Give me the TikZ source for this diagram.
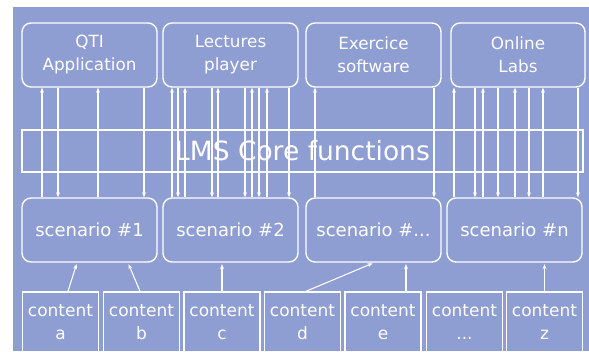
\documentclass[tikz,border=0pt]{standalone}
\usepackage{fontspec}
\setmainfont{DejaVu Sans}
\usetikzlibrary{arrows.meta}
\definecolor{bgblue}{RGB}{142,157,210}
\tikzset{
  box/.style={draw=white, line width=1.4pt, rounded corners=9pt, text=white, align=center, font=\fontsize{16.8}{23}\selectfont, minimum height=64pt},
  scen/.style={box, font=\fontsize{18}{23}\selectfont},
  cbox/.style={draw=white, line width=1.4pt, text=white, align=center, font=\fontsize{17}{23}\selectfont, minimum width=76pt, minimum height=60pt, inner sep=0pt},
  core/.style={draw=white, line width=1.2pt, text=white, font=\fontsize{26.5}{30}\selectfont, minimum width=561pt, minimum height=42pt},
  link/.style={draw=white, line width=1.1pt, -{Stealth[length=5pt,width=4pt]}}
}
\begin{document}
\begin{tikzpicture}[x=1pt,y=-1pt]
\useasboundingbox (0,0) rectangle (589,351);
\fill[white] (0,0) rectangle (589,351);
\fill[bgblue] (13,7) rectangle (589,351);
% top row
\node[box, minimum width=135pt] (qti) at (89.5,55) {QTI\\Application};
\node[box, minimum width=135pt] (lec) at (230.5,55) {Lectures\\player};
\node[box, minimum width=135pt] (exe) at (373.5,55) {Exercice\\software};
\node[box, minimum width=134pt] (lab) at (518,55) {Online\\Labs};
% core
\node[core] (lms) at (302.5,151) {LMS Core functions};
% scenarios
\node[scen, minimum width=135pt] (s1) at (89.5,230) {scenario \#1};
\node[scen, minimum width=135pt] (s2) at (230.5,230) {scenario \#2};
\node[scen, minimum width=135pt] (s3) at (373.5,230) {scenario \#...};
\node[scen, minimum width=135pt] (s4) at (514.5,230) {scenario \#n};
% contents
\node[cbox] (ca) at (60.5,322) {content\\a};
\node[cbox] (cb) at (141.5,322) {content\\b};
\node[cbox] (cc) at (222,322) {content\\c};
\node[cbox] (cd) at (302.5,322) {content\\d};
\node[cbox] (ce) at (383,322) {content\\e};
\node[cbox] (cdots) at (464.5,322) {content\\...};
\node[cbox] (cz) at (544.5,322) {content\\z};
% vertical links: up arrows (scenario -> app), down arrows (app -> scenario)
\foreach \x in {42,98} \draw[link] (s1.north -| \x,0) -- (qti.south -| \x,0);
\foreach \x in {58,144} \draw[link] (qti.south -| \x,0) -- (s1.north -| \x,0);
\foreach \x in {172,185,218,252,267} \draw[link] (s2.north -| \x,0) -- (lec.south -| \x,0);
\foreach \x in {178,212,245,259,289} \draw[link] (lec.south -| \x,0) -- (s2.north -| \x,0);
\foreach \x in {315} \draw[link] (s3.north -| \x,0) -- (exe.south -| \x,0);
\foreach \x in {434} \draw[link] (exe.south -| \x,0) -- (s3.north -| \x,0);
\foreach \x in {454,483,515,543} \draw[link] (s4.north -| \x,0) -- (lab.south -| \x,0);
\foreach \x in {475,498,529,578} \draw[link] (lab.south -| \x,0) -- (s4.north -| \x,0);
% content links
\draw[link, shorten >=1.5pt] (ca.north -| 68,0) -- (s1.south -| 77,0);
\draw[link, shorten >=1.5pt] (cb.north -| 140,0) -- (s1.south -| 128,0);
\draw[link, shorten >=1.5pt] (cc.north) -- (s2.south -| 222,0);
\draw[link, shorten >=1.5pt] (cd.north -| 306,0) -- (s3.south -| 374,0);
\draw[link, shorten >=1.5pt] (ce.north -| 406,0) -- (s3.south -| 406,0);
\draw[link, shorten >=1.5pt] (cz.north) -- (s4.south -| 544.5,0);
\end{tikzpicture}
\end{document}
